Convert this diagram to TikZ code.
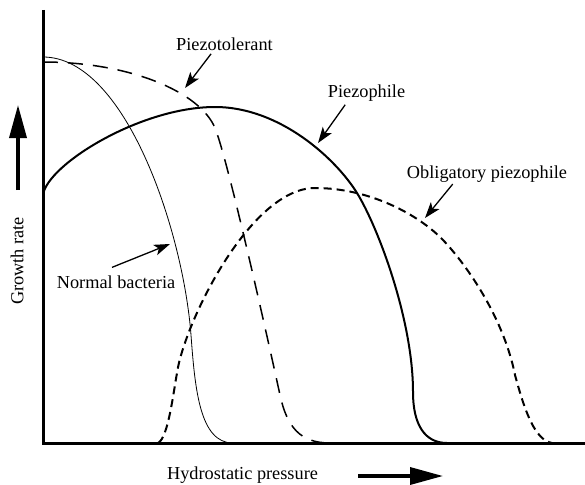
\documentclass[tikz,border=0pt]{standalone}
\usepackage{fontspec}
\setmainfont{Liberation Serif}
\usetikzlibrary{arrows.meta,positioning,calc}

\tikzset{
  lbl/.style={inner sep=0pt},
  pointer/.style={line width=1.3pt,-{Stealth[length=16pt,width=11pt,inset=4pt]},shorten <=4pt},
  axisline/.style={line width=3pt},
  bigarrow/.style={line width=3.5pt,-{Triangle[length=33pt,width=17pt]}},
  normalcurve/.style={line width=0.8pt},
  tolerantcurve/.style={line width=1.5pt,dash pattern=on 15pt off 10pt},
  philecurve/.style={line width=2pt},
  obligcurve/.style={line width=2pt,dash pattern=on 8pt off 5pt},
}

\begin{document}
\begin{tikzpicture}[x=1pt,y=-1pt,font=\fontsize{18.3}{22}\selectfont]
    \useasboundingbox (0,0) rectangle (585,484);

    % Axes
    \draw [axisline] (43,10) -- (43,443) -- (585,443);

    % Axis titles
    \node [lbl, rotate=90] (growth) at (17,261) {Growth rate};
    \node [lbl] (pressure) at (242.5,475) {Hydrostatic pressure};
    \coordinate (upfrom) at (18,190);
    \coordinate (upto) at (18,105);
    \coordinate (rightfrom) at (358,476);
    \coordinate (rightto) at (443,476);
    \draw [bigarrow] (upfrom) -- (upto);
    \draw [bigarrow] (rightfrom) -- (rightto);

    % Curves
    \draw [normalcurve] (43,57) .. controls (125,57) and (183,230) .. (191,335)
        .. controls (195,390) and (200,443) .. (233,443);
    \draw [tolerantcurve] (43,62) .. controls (130,62) and (200,92) .. (215,128)
        .. controls (228,160) and (268,340) .. (280,395)
        .. controls (287,427) and (300,443) .. (330,443);
    \draw [philecurve] (43,195) .. controls (47,165) and (140,107) .. (215,107)
        .. controls (280,107) and (336,159) .. (357,193)
        .. controls (378,227) and (413,320) .. (413,392)
        .. controls (413,425) and (425,443) .. (447,443);
    \draw [obligcurve] (158,443) .. controls (168,438) and (173,395) .. (177,373)
        .. controls (184,324) and (250,188) .. (315,188)
        .. controls (370,188) and (419,215) .. (443,240)
        .. controls (464,262) and (503,315) .. (515,375)
        .. controls (525,412) and (535,440) .. (552,443);

    % Labels
    \node [lbl] (tolerant) at (224.5,44) {Piezotolerant};
    \node [lbl] (phile) at (366.5,93) {Piezophile};
    \node [lbl] (oblig) at (487,174) {Obligatory piezophile};
    \node [lbl] (normal) at (116,282) {Normal bacteria};

    % Pointers
    \coordinate (toltip) at (185,88);
    \coordinate (philetip) at (318,143);
    \coordinate (obligtip) at (425,218);
    \coordinate (normaltip) at (170,244);
    \draw [pointer] ([xshift=-11pt]tolerant.south) -- (toltip);
    \draw [pointer] ([xshift=-19pt]phile.south) -- (philetip);
    \draw [pointer, shorten <=2pt] ([xshift=-33pt]oblig.south) -- (obligtip);
    \draw [pointer, shorten <=0pt] ([xshift=-4pt,yshift=8pt]normal.north) -- (normaltip);
\end{tikzpicture}
\end{document}
